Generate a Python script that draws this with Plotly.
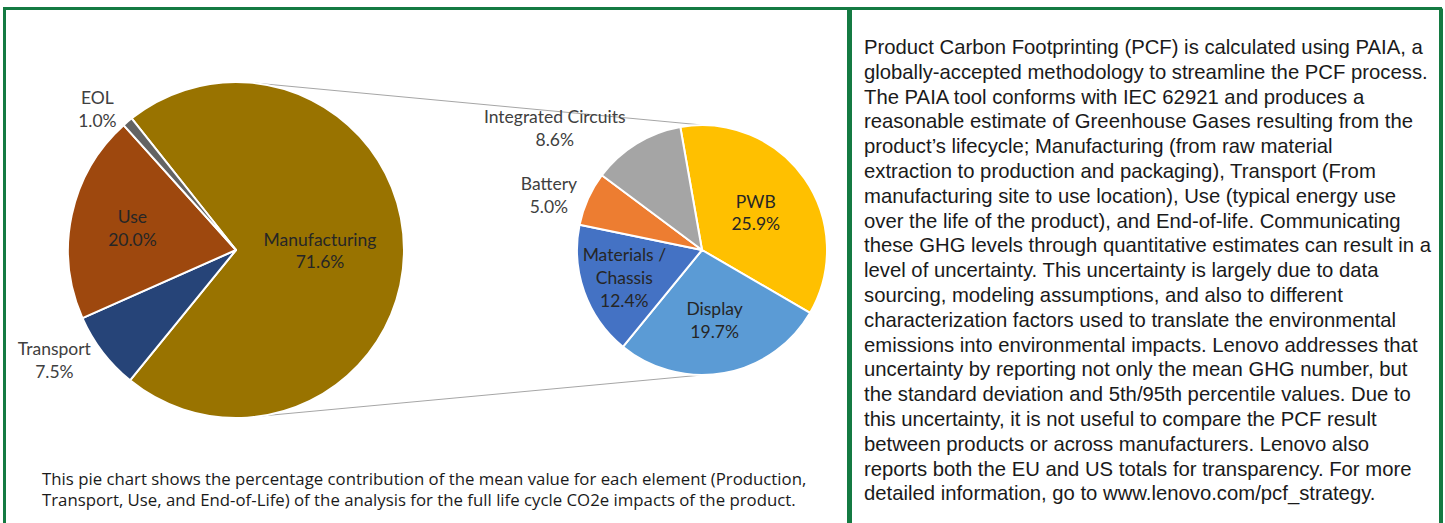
import math
import plotly.graph_objects as go

# ---------------- data ----------------
main_labels = ["Manufacturing", "Transport", "Use", "EOL"]
main_values = [71.6, 7.5, 20.0, 1.0]
main_colors = ["#997300", "#264478", "#9E480E", "#636363"]
main_textpos = ["inside", "outside", "inside", "outside"]

sub_labels = ["PWB", "Display", "Materials /<br>Chassis", "Battery", "Integrated Circuits"]
sub_values = [25.9, 19.7, 12.4, 5.0, 8.6]
sub_colors = ["#FFC000", "#5B9BD5", "#4472C4", "#ED7D31", "#A5A5A5"]
sub_textpos = ["inside", "inside", "inside", "outside", "outside"]

caption_lines = [
    "This pie chart shows the percentage contribution of the mean value for each element (Production,",
    "Transport, Use, and End-of-Life) of the analysis for the full life cycle CO2e impacts of the product.",
]

body_lines = [
    "Product Carbon Footprinting (PCF) is calculated using PAIA, a",
    "globally-accepted methodology to streamline the PCF process.",
    "The PAIA tool conforms with IEC 62921 and produces a",
    "reasonable estimate of Greenhouse Gases resulting from the",
    "product’s lifecycle; Manufacturing (from raw material",
    "extraction to production and packaging), Transport (From",
    "manufacturing site to use location), Use (typical energy use",
    "over the life of the product), and End-of-life. Communicating",
    "these GHG levels through quantitative estimates can result in a",
    "level of uncertainty. This uncertainty is largely due to data",
    "sourcing, modeling assumptions, and also to different",
    "characterization factors used to translate the environmental",
    "emissions into environmental impacts. Lenovo addresses that",
    "uncertainty by reporting not only the mean GHG number, but",
    "the standard deviation and 5th/95th percentile values. Due to",
    "this uncertainty, it is not useful to compare the PCF result",
    "between products or across manufacturers. Lenovo also",
    "reports both the EU and US totals for transparency. For more",
    "detailed information, go to www.lenovo.com/pcf_strategy.",
]

# ---------------- layout constants ----------------
W, H = 1445, 523
GREEN = "#147A42"
LABEL_FONT = "Lato, 'Open Sans', sans-serif"
CAPTION_FONT = "'Open Sans', Lato, sans-serif"
BODY_FONT = "'Liberation Sans', Arial, sans-serif"
LABEL_SIZE = 17.5

# pie geometry (pixels)
L_CX, L_CY, L_R = 236, 250, 168
R_CX, R_CY, R_R = 702, 250, 125


def dom(cx, cy, r):
    return dict(x=[(cx - r) / W, (cx + r) / W], y=[(H - cy - r) / H, (H - cy + r) / H])


def px(x):
    return x / W


def py(y):
    return (H - y) / H


fig = go.Figure()

for labels, values, colors, tpos, rot, geo in [
    (main_labels, main_values, main_colors, main_textpos, -38.4, (L_CX, L_CY, L_R)),
    (sub_labels, sub_values, sub_colors, sub_textpos, -10, (R_CX, R_CY, R_R)),
]:
    fig.add_trace(go.Pie(
        labels=labels, values=values, sort=False, direction="clockwise",
        rotation=rot, domain=dom(*geo),
        marker=dict(colors=colors, line=dict(color="white", width=2)),
        texttemplate="%{label}<br>%{value:.1f}%", textposition=tpos,
        insidetextorientation="horizontal",
        textfont=dict(family=LABEL_FONT, size=LABEL_SIZE, color="#262626"),
        insidetextfont=dict(family=LABEL_FONT, size=LABEL_SIZE, color="#262626"),
        outsidetextfont=dict(family=LABEL_FONT, size=LABEL_SIZE, color="#404040"),
        showlegend=False, hoverinfo="label+value",
    ))

shapes = []

# connector lines between the pies
for a_left, a_right in [(6, 0), (171, 180)]:
    x0 = L_CX + L_R * math.sin(math.radians(a_left))
    y0 = L_CY - L_R * math.cos(math.radians(a_left))
    x1 = R_CX + R_R * math.sin(math.radians(a_right))
    y1 = R_CY - R_R * math.cos(math.radians(a_right))
    shapes.append(dict(type="line", xref="paper", yref="paper",
                       x0=px(x0), y0=py(y0), x1=px(x1), y1=py(y1),
                       line=dict(color="#A6A6A6", width=1), layer="below"))

# green frame
for (x0, y0, x1, y1, w) in [
    (4.5, 8.5, 4.5, H + 5, 3),
    (3, 8.5, 1442, 8.5, 3),
    (849.5, 8.5, 849.5, H + 5, 5),
    (1441, 8.5, 1441, H + 5, 4),
]:
    shapes.append(dict(type="line", xref="paper", yref="paper",
                       x0=px(x0), y0=py(y0), x1=px(x1), y1=py(y1),
                       line=dict(color=GREEN, width=w)))

annotations = []
for i, line in enumerate(caption_lines):
    annotations.append(dict(text=line, xref="paper", yref="paper",
                            x=px(40), y=py(478 + i * 21), xanchor="left", yanchor="middle",
                            showarrow=False,
                            font=dict(family=CAPTION_FONT, size=16.8, color="#1a1a1a")))

for i, line in enumerate(body_lines):
    annotations.append(dict(text=line, xref="paper", yref="paper",
                            x=px(862), y=py(47 + i * 24.8), xanchor="left", yanchor="middle",
                            showarrow=False,
                            font=dict(family=BODY_FONT, size=20.3, color="#1a1a1a")))

fig.update_layout(
    width=W, height=H, margin=dict(l=0, r=0, t=0, b=0),
    paper_bgcolor="white", plot_bgcolor="white",
    shapes=shapes, annotations=annotations,
    uniformtext=dict(minsize=LABEL_SIZE, mode="show"),
)

fig.write_html("out.html", config={"displayModeBar": False},
               post_script="document.body.style.margin='0';document.body.style.overflow='hidden';")
